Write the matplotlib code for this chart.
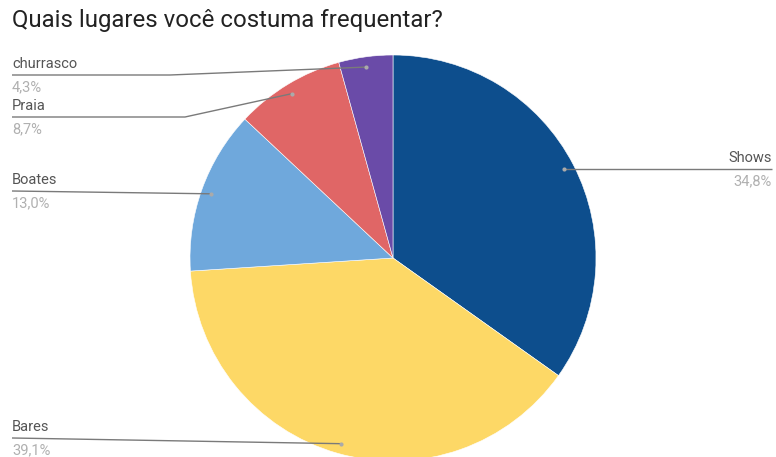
import matplotlib.pyplot as plt
import numpy as np

labels = ['Shows', 'Bares', 'Boates', 'Praia', 'churrasco']
values = [34.8, 39.1, 13.0, 8.7, 4.3]
pct_text = ['34,8%', '39,1%', '13,0%', '8,7%', '4,3%']
colors = ['#0D4E8D', '#FDD866', '#6FA8DC', '#E06666', '#6A4BA8']

plt.rcParams['font.family'] = ['Roboto', 'DejaVu Sans']

fig = plt.figure(figsize=(7.76, 4.57), dpi=100)
ax = fig.add_axes([0, 0, 1, 1])

# pie in pixel coords (y goes down, so counterclock in data = clockwise on screen)
cx, cy, R = 393, 258, 203
wedges, _ = ax.pie(values, colors=colors, center=(cx, cy), radius=R,
                   startangle=-90, counterclock=True,
                   wedgeprops={'edgecolor': 'white', 'linewidth': 0.4})
ax.set_xlim(0, 776)
ax.set_ylim(457, 0)
ax.set_aspect('equal')
ax.axis('off')

line_c = '#7a7a7a'
name_c = '#555555'
pct_c = '#b0b0b0'

# leader lines: (label end x, line y, optional kink x)
leaders = {
    'Shows': (772, None, None),
    'Bares': (12, 438, None),
    'Boates': (12, 191, None),
    'Praia': (12, 117, 185),
    'churrasco': (12, 75, 170),
}

cum = 0
for i, lab in enumerate(labels):
    mid = (cum + values[i] / 2) / 100 * 2 * np.pi
    cum += values[i]
    r = 0.95 * R
    dx = cx + r * np.sin(mid)
    dy = cy - r * np.cos(mid)
    ex, ly, kx = leaders[lab]
    if ly is None:
        ly = dy
    if kx is None:
        xs, ys = [dx, ex], [dy, ly]
    else:
        xs, ys = [dx, kx, ex], [dy, ly, ly]
    ax.plot(xs, ys, color=line_c, lw=1.0, solid_capstyle='butt')
    ax.plot(dx, dy, 'o', ms=3, color='#aaaaaa', mec='none')
    ha = 'right' if ex > cx else 'left'
    ax.text(ex, ly - 11, lab, ha=ha, va='center', fontsize=10.5, color=name_c)
    ax.text(ex, ly + 12, pct_text[i], ha=ha, va='center', fontsize=10.5, color=pct_c)

ax.text(12, 21, 'Quais lugares você costuma frequentar?', ha='left', va='center',
        fontsize=17.3, color='#222222')

fig.savefig('out.png', dpi=100)
